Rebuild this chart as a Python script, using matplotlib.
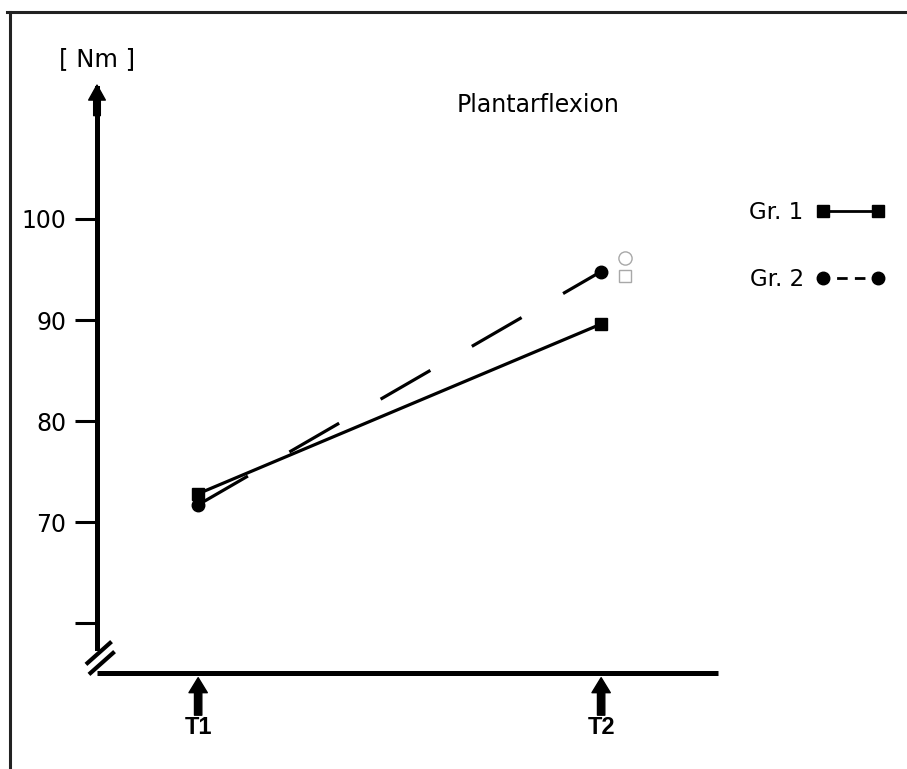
import matplotlib
matplotlib.use('Agg')
import matplotlib.pyplot as plt
from matplotlib.lines import Line2D
from matplotlib.transforms import ScaledTranslation

# ---- data ----
times      = [1, 2]
time_labels = ['T1', 'T2']
gr1_values = [72.8, 89.6]     # Gr. 1, solid line, filled squares
gr2_values = [71.7, 94.8]     # Gr. 2, dashed line, filled circles
# open grey markers right of T2
open_x        = [2.06]
open_circle_y = [96.1]
open_square_y = [94.4]
y_ticks      = [60, 70, 80, 90, 100]
y_ticklabels = ['', '70', '80', '90', '100']

plt.rcParams['font.family'] = ['DejaVu Sans']

W, H = 907, 769
fig = plt.figure(figsize=(W / 100, H / 100), dpi=100)

# axes box in pixels: y-axis at x=97, x-axis at y=673, arrow tip y=88, right end x=718
ax = fig.add_axes([97 / W, 1 - 673 / H, (718 - 97) / W, (673 - 88) / H])
ax.set_xlim(0.749, 2.290)
ax.set_ylim(55.05, 112.97)

ax.plot(times, gr1_values, color='black', lw=2.3, marker='s', ms=9,
        solid_capstyle='butt', zorder=3)
ax.plot(times, gr2_values, color='black', lw=2.3, marker='o', ms=9,
        linestyle=(0, (18, 15)), zorder=3)
ax.plot(open_x, open_circle_y, linestyle='none', marker='o', ms=9.5,
        mfc='white', mec='#a8a8a8', mew=1.0, clip_on=False)
ax.plot(open_x, open_square_y, linestyle='none', marker='s', ms=8.5,
        mfc='white', mec='#a8a8a8', mew=1.0, clip_on=False)

# axes styling
for side in ['top', 'right']:
    ax.spines[side].set_visible(False)
ax.spines['left'].set_linewidth(3.6)
ax.spines['bottom'].set_linewidth(3.6)
ax.spines['left'].set_bounds(57.5, 112.97)
ax.spines['bottom'].set_capstyle('butt')

ax.set_yticks(y_ticks)
ax.set_yticklabels(y_ticklabels)
ax.tick_params(axis='y', direction='out', length=16, width=2.2, pad=6,
               labelsize=17)
ax.set_xticks([])

# arrow head at top of y-axis
ax.annotate('', xy=(0, 1.005), xycoords='axes fraction',
            xytext=(0, -22), textcoords='offset points',
            arrowprops=dict(arrowstyle='simple,head_length=0.45,head_width=0.5,tail_width=0.2',
                            mutation_scale=24, color='black', shrinkA=0, shrinkB=0))
ax.text(0, 1 + (88 - 59) / 585, '[ Nm ]', transform=ax.transAxes,
        ha='center', va='center', fontsize=17.5)

# time arrows and labels under the x-axis
for t, lab in zip(times, time_labels):
    ax.annotate('', xy=(t, -0.008), xycoords=('data', 'axes fraction'),
                xytext=(0, -27), textcoords='offset points',
                arrowprops=dict(arrowstyle='simple,head_length=0.45,head_width=0.55,tail_width=0.22',
                                mutation_scale=24, color='black', shrinkA=0, shrinkB=0))
    ax.annotate(lab, xy=(t, 0), xycoords=('data', 'axes fraction'),
                xytext=(0, -39), textcoords='offset points', ha='center', va='center',
                fontsize=17, fontweight='bold',
                family=['Liberation Sans Narrow', 'Liberation Sans'])

# axis break "//" near the origin (offsets in inches from the corner)
corner = fig.dpi_scale_trans + ScaledTranslation(0, 0, ax.transAxes)
for x0, y0 in [(-0.095, 0.10), (-0.065, 0.0)]:
    fig.add_artist(Line2D([x0, x0 + 0.225], [y0, y0 + 0.20], color='black', lw=3.0,
                          transform=corner))

ax.text(538 / W, 1 - 105 / H, 'Plantarflexion', transform=fig.transFigure,
        ha='center', va='center', fontsize=17)

# legend on the right, label first
h1 = Line2D([], [], color='black', lw=2.0, marker='s', ms=9)
h2 = Line2D([], [], color='black', lw=2.0, marker='o', ms=9, linestyle=(1.5, (3.8, 2.6)))
fig.legend([h1, h2], ['Gr. 1', 'Gr. 2'], loc='upper left',
           bbox_to_anchor=(738 / W, 1 - 190 / H), markerfirst=False, numpoints=2,
           frameon=False, fontsize=16.5, handlelength=3.0, handletextpad=0.55,
           labelspacing=1.9, borderpad=0)

# outer frame (top and left edge of the picture)
fig.add_artist(Line2D([7 / W, 1], [1 - 11.5 / H, 1 - 11.5 / H], color='#222222',
                      lw=2.2, transform=fig.transFigure))
fig.add_artist(Line2D([9.5 / W, 9.5 / W], [0, 1 - 11.5 / H], color='#222222',
                      lw=2.2, transform=fig.transFigure))

fig.savefig('out.png', dpi=100)
